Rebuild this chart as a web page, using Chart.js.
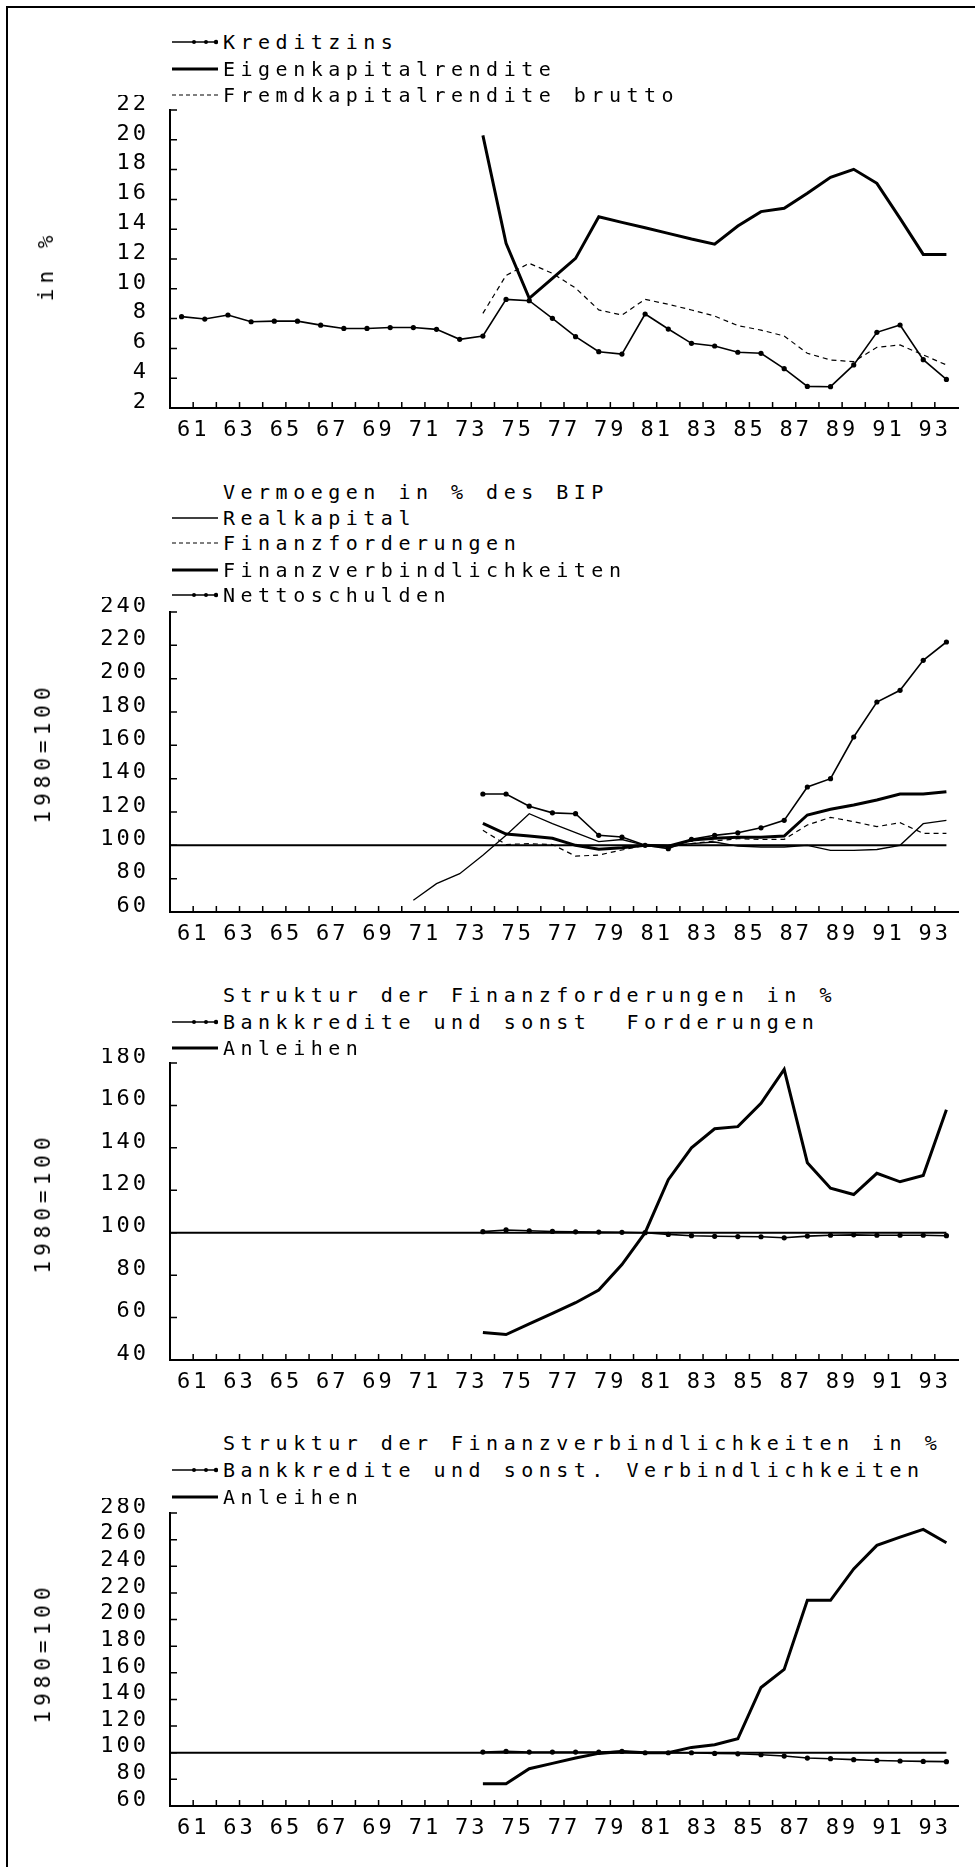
<!DOCTYPE html>
<html>
<head>
<meta charset="utf-8">
<script src="https://cdn.jsdelivr.net/npm/chart.js@4.4.1/dist/chart.umd.min.js"></script>
<style>
  body { margin: 0; width: 975px; height: 1867px; background: #fff; position: relative; overflow: hidden;
         font-family: 'DejaVu Sans Mono', monospace; color: #000; }
  .frame { position: absolute; left: 6px; top: 6px; width: 969px; height: 1861px; border-top: 2px solid #000; border-left: 2px solid #000; }
  .panel { position: absolute; left: 0; width: 975px; }
  .row { position: absolute; left: 172px; height: 26px; display: flex; align-items: center;
         font-size: 20px; letter-spacing: 5.5px; white-space: pre; }
  .row svg { margin-right: 5px; flex: none; }
  .row.title { padding-left: 51px; }
  .ytitle { position: absolute; font-size: 21px; letter-spacing: 5px; white-space: pre;
            transform: translate(-50%, -50%) rotate(-90deg); }
</style>
</head>
<body>
<div class="frame"></div>
<div id="page"></div>
<script>
// Jahre (Kategorien)
const years = [1960, 1961, 1962, 1963, 1964, 1965, 1966, 1967, 1968, 1969,
               1970, 1971, 1972, 1973, 1974, 1975, 1976, 1977, 1978, 1979,
               1980, 1981, 1982, 1983, 1984, 1985, 1986, 1987, 1988, 1989,
               1990, 1991, 1992, 1993];
const N = null;

// Panel 1: Renditen in %
const kreditzins = [8.13, 7.97, 8.24, 7.79, 7.83, 7.83, 7.56, 7.34, 7.34, 7.4,
                    7.4, 7.28, 6.61, 6.83, 9.29, 9.2, 8.02, 6.79, 5.78, 5.62,
                    8.31, 7.3, 6.34, 6.16, 5.74, 5.67, 4.64, 3.45, 3.43, 4.89,
                    7.08, 7.57, 5.24, 3.92];
const eigenkapitalrendite = [N, N, N, N, N, N, N, N, N, N, N, N, N,
                    20.3, 13.05, 9.36, 10.7, 12.04, 14.84, 14.46,
                    14.1, 13.72, 13.34, 13.0, 14.21, 15.18, 15.4, 16.41, 17.48, 18.02,
                    17.08, 14.73, 12.31, 12.31];
const fremdkapitalrendite = [N, N, N, N, N, N, N, N, N, N, N, N, N,
                    8.35, 10.9, 11.71, 11.04, 10.05, 8.58, 8.24,
                    9.29, 8.96, 8.58, 8.17, 7.53, 7.23, 6.83, 5.67, 5.22, 5.11,
                    6.07, 6.23, 5.56, 4.89];

// Panel 2: Vermoegen in % des BIP (1980=100)
const realkapital = [N, N, N, N, N, N, N, N, N, N,
                    67, 77, 83, 94, 106, 119, 113, 107.6, 102.2, 103.5,
                    100, 100, 101, 102, 99.5, 99, 99, 100, 97, 97,
                    97.5, 100, 113, 115];
const finanzforderungen = [N, N, N, N, N, N, N, N, N, N, N, N, N,
                    109, 100.5, 101, 100.5, 93.5, 94.2, 97.2,
                    100, 99, 101, 102.6, 104, 103.5, 103.6, 112.2, 116.8, 114.2,
                    111.2, 113.6, 107.2, 107.2];
const finanzverbindlichkeiten = [N, N, N, N, N, N, N, N, N, N, N, N, N,
                    113.2, 106.8, 105.6, 104.2, 100, 97.6, 98.6,
                    100, 99.5, 103.2, 104.2, 104.8, 104.8, 105.6, 118.2, 121.6, 124.2,
                    127.2, 130.8, 130.8, 132.2];
const nettoschulden = [N, N, N, N, N, N, N, N, N, N, N, N, N,
                    130.8, 130.8, 123.5, 119.5, 119, 106, 105,
                    100, 98, 103.6, 106, 107.5, 110.5, 115, 135, 140, 165,
                    186, 193, 211, 222];

// Panel 3: Struktur der Finanzforderungen (1980=100)
const bankFord = [N, N, N, N, N, N, N, N, N, N, N, N, N,
                    100.5, 101.3, 100.9, 100.6, 100.4, 100.3, 100.2,
                    100, 99.2, 98.6, 98.3, 98.2, 98.1, 97.6, 98.4, 98.8, 99,
                    98.8, 98.8, 98.8, 98.6];
const anleihenFord = [N, N, N, N, N, N, N, N, N, N, N, N, N,
                    53, 52, 57, 62, 67, 73, 85,
                    100, 125, 140, 149, 150, 161, 177, 133, 121, 118,
                    128, 124, 127, 158];

// Panel 4: Struktur der Finanzverbindlichkeiten (1980=100)
const bankVerb = [N, N, N, N, N, N, N, N, N, N, N, N, N,
                    100.5, 101, 100.5, 100.5, 100.5, 100.5, 101,
                    100, 100, 100, 99.5, 99.2, 98.5, 97.5, 96, 95.5, 94.8,
                    94.2, 93.8, 93.5, 93.3];
const anleihenVerb = [N, N, N, N, N, N, N, N, N, N, N, N, N,
                    76.7, 76.7, 88, 92, 96, 99.5, 101,
                    100, 100, 104, 106, 110.5, 149, 162.6, 214.4, 214.4, 238,
                    255.7, 261.9, 267.7, 257.7];

const BASE = 100;
const FONT = "'DejaVu Sans Mono', monospace";

Chart.defaults.font.family = FONT;
Chart.defaults.font.size = 22;
Chart.defaults.color = '#000';

// Zeichenabstand wie beim Plotter
const spacing = {
  id: 'spacing',
  beforeUpdate(c) { c.ctx.letterSpacing = '3px'; },
  beforeDraw(c) { c.ctx.letterSpacing = '3px'; }
};

// kleine Striche nach innen + Linie bei 100
const axisMarks = {
  id: 'axisMarks',
  beforeDatasetsDraw(chart, args, opts) {
    if (opts.base == null) return;
    const { ctx, chartArea: a, scales } = chart;
    const y = scales.y.getPixelForValue(opts.base);
    const xEnd = scales.x.getPixelForValue(years.length - 1);
    ctx.save();
    ctx.strokeStyle = '#000';
    ctx.lineWidth = 2;
    ctx.beginPath();
    ctx.moveTo(a.left, y);
    ctx.lineTo(xEnd, y);
    ctx.stroke();
    ctx.restore();
  },
  afterDraw(chart) {
    const { ctx, chartArea: a, scales } = chart;
    ctx.save();
    ctx.strokeStyle = '#000';
    ctx.lineWidth = 1.5;
    ctx.beginPath();
    scales.xt.ticks.forEach((t, i) => {
      const x = scales.xt.getPixelForTick(i);
      if (x > a.left + 2 && x < a.right - 2) { ctx.moveTo(x, a.bottom); ctx.lineTo(x, a.bottom - 6); }
    });
    scales.y.ticks.forEach((t, i) => {
      const y = scales.y.getPixelForTick(i);
      if (y < a.bottom - 2) { ctx.moveTo(a.left, y); ctx.lineTo(a.left + 7, y); }
    });
    ctx.stroke();
    ctx.restore();
  }
};

function series(data, kind) {
  const ds = { data: data, xAxisID: 'x', yAxisID: 'y', borderColor: '#000', backgroundColor: '#000',
               pointRadius: 0, borderWidth: 1.3, tension: 0, spanGaps: false };
  if (kind === 'thick') ds.borderWidth = 3;
  if (kind === 'dash') { ds.borderWidth = 1.2; ds.borderDash = [5, 4]; }
  if (kind === 'mark') { ds.borderWidth = 1.6; ds.pointRadius = 2.6; ds.pointBorderWidth = 0; }
  return ds;
}

function sample(kind) {
  let s = '<svg width="46" height="12" viewBox="0 0 46 12">';
  if (kind === 'thin') s += '<line x1="0" y1="6" x2="46" y2="6" stroke="#000" stroke-width="1.3"/>';
  if (kind === 'thick') s += '<line x1="0" y1="6" x2="46" y2="6" stroke="#000" stroke-width="3"/>';
  if (kind === 'dash') s += '<line x1="0" y1="6" x2="46" y2="6" stroke="#000" stroke-width="1.2" stroke-dasharray="4 3"/>';
  if (kind === 'mark') s += '<line x1="0" y1="6" x2="46" y2="6" stroke="#000" stroke-width="1.5"/>' +
    '<circle cx="22" cy="6" r="2"/><circle cx="34" cy="6" r="2"/><circle cx="44" cy="6" r="2.2"/>';
  return s + '</svg>';
}

const page = document.getElementById('page');

function addRow(center, text, kind) {
  const d = document.createElement('div');
  d.className = 'row' + (kind ? '' : ' title');
  d.style.top = (center - 13) + 'px';
  d.innerHTML = (kind ? sample(kind) : '') + '<span></span>';
  d.lastChild.textContent = text;
  page.appendChild(d);
}

function addYTitle(x, y, text) {
  const d = document.createElement('div');
  d.className = 'ytitle';
  d.style.left = x + 'px';
  d.style.top = y + 'px';
  d.textContent = text;
  page.appendChild(d);
}

function makePanel(cfg) {
  const box = document.createElement('div');
  box.className = 'panel';
  box.style.top = (cfg.top - 15) + 'px';
  box.style.height = (cfg.bottom - cfg.top + 60) + 'px';
  const cv = document.createElement('canvas');
  box.appendChild(cv);
  page.appendChild(box);

  new Chart(cv, {
    type: 'line',
    data: { labels: years, datasets: cfg.datasets },
    options: {
      responsive: true,
      maintainAspectRatio: false,
      animation: false,
      layout: { padding: { top: 15, right: 17, left: 0, bottom: 0 } },
      plugins: { legend: { display: false }, tooltip: { enabled: false }, axisMarks: { base: cfg.base } },
      scales: {
        x: { type: 'category', offset: true, display: false },
        xt: {
          type: 'linear', position: 'bottom', min: 1960, max: 1994,
          afterFit: s => { s.height = 45; s.paddingLeft = 0; s.paddingRight = 0; },
          border: { display: true, width: 2, color: '#000' },
          grid: { drawOnChartArea: false, drawTicks: false },
          ticks: {
            stepSize: 1, autoSkip: false, maxRotation: 0, minRotation: 0, maxTicksLimit: 60, padding: 9,
            callback: v => (v % 2 === 1 && v > 1960 && v < 1994) ? String(v).slice(2) : ''
          }
        },
        y: {
          min: cfg.min, max: cfg.max,
          afterFit: s => { s.width = 170; s.paddingTop = 0; s.paddingBottom = 0; },
          border: { display: true, width: 2, color: '#000' },
          grid: { drawOnChartArea: false, drawTicks: false },
          ticks: { stepSize: cfg.step, autoSkip: false, padding: 21, labelOffset: -6 }
        }
      }
    },
    plugins: [spacing, axisMarks]
  });
}

// Panel 1
makePanel({ top: 110, bottom: 408, min: 2, max: 22, step: 2, base: null, datasets: [
  series(fremdkapitalrendite, 'dash'),
  series(kreditzins, 'mark'),
  series(eigenkapitalrendite, 'thick')
]});
addRow(42, 'Kreditzins', 'mark');
addRow(69, 'Eigenkapitalrendite', 'thick');
addRow(95, 'Fremdkapitalrendite brutto', 'dash');
addYTitle(46, 266, 'in %');

// Panel 2
makePanel({ top: 612, bottom: 912, min: 60, max: 240, step: 20, base: BASE, datasets: [
  series(realkapital, 'thin'),
  series(finanzforderungen, 'dash'),
  series(finanzverbindlichkeiten, 'thick'),
  series(nettoschulden, 'mark')
]});
addRow(492, 'Vermoegen in % des BIP');
addRow(518, 'Realkapital', 'thin');
addRow(543, 'Finanzforderungen', 'dash');
addRow(570, 'Finanzverbindlichkeiten', 'thick');
addRow(595, 'Nettoschulden', 'mark');
addYTitle(43, 753, '1980=100');

// Panel 3
makePanel({ top: 1063, bottom: 1360, min: 40, max: 180, step: 20, base: BASE, datasets: [
  series(bankFord, 'mark'),
  series(anleihenFord, 'thick')
]});
addRow(995, 'Struktur der Finanzforderungen in %');
addRow(1022, 'Bankkredite und sonst  Forderungen', 'mark');
addRow(1048, 'Anleihen', 'thick');
addYTitle(43, 1203, '1980=100');

// Panel 4
makePanel({ top: 1513, bottom: 1806, min: 60, max: 280, step: 20, base: BASE, datasets: [
  series(bankVerb, 'mark'),
  series(anleihenVerb, 'thick')
]});
addRow(1443, 'Struktur der Finanzverbindlichkeiten in %');
addRow(1470, 'Bankkredite und sonst. Verbindlichkeiten', 'mark');
addRow(1497, 'Anleihen', 'thick');
addYTitle(43, 1653, '1980=100');
</script>
</body>
</html>
